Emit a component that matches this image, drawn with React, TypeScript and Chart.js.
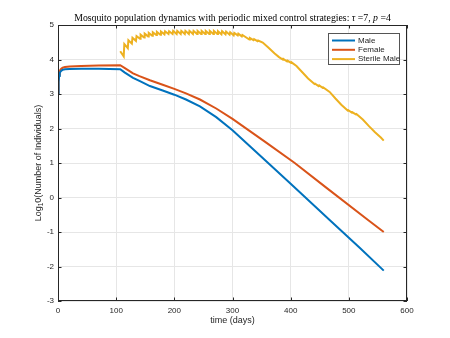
import React, { useEffect, useRef } from "react";
import { Chart, registerables } from "chart.js";

Chart.register(...registerables);

// ---- data ----
const maleDays = [0, 1, 2, 3, 4, 6, 8, 12, 20, 40, 70, 107, 115, 129, 140, 158, 180, 200, 220, 244, 272, 300, 329, 365, 400, 467, 520, 560];
const maleLog = [3.0, 3.35, 3.52, 3.6, 3.64, 3.68, 3.7, 3.715, 3.725, 3.73, 3.73, 3.72, 3.62, 3.47, 3.38, 3.23, 3.1, 2.98, 2.84, 2.64, 2.33, 1.95, 1.5, 0.94, 0.4, -0.65, -1.48, -2.12];

const femaleDays = [0, 1, 2, 3, 4, 6, 8, 12, 20, 40, 70, 107, 115, 129, 140, 158, 180, 200, 220, 244, 272, 300, 358, 407, 460, 533, 560];
const femaleLog = [3.0, 3.38, 3.56, 3.65, 3.7, 3.74, 3.76, 3.78, 3.8, 3.815, 3.825, 3.835, 3.75, 3.6, 3.52, 3.4, 3.27, 3.15, 3.02, 2.84, 2.58, 2.28, 1.59, 1.0, 0.3, -0.65, -1.0];

// sterile male: weekly releases (value just after release, value just before next release)
const releaseDays = [107, 114, 121, 128, 135, 142, 149, 156, 163, 170, 177, 184, 191, 198, 205, 212, 219, 226, 233, 240, 247, 254, 261, 268, 275, 282, 289, 296];
const releasePeaks = [4.24, 4.45, 4.56, 4.63, 4.68, 4.72, 4.75, 4.77, 4.79, 4.8, 4.81, 4.82, 4.82, 4.83, 4.83, 4.83, 4.83, 4.83, 4.83, 4.83, 4.83, 4.83, 4.83, 4.83, 4.82, 4.82, 4.81, 4.79];
const releaseTroughs = [4.09, 4.33, 4.46, 4.54, 4.6, 4.64, 4.67, 4.69, 4.71, 4.72, 4.73, 4.74, 4.74, 4.74, 4.74, 4.74, 4.74, 4.74, 4.74, 4.74, 4.74, 4.74, 4.74, 4.74, 4.73, 4.73, 4.72, 4.7];
// sterile male: later phase
const sterileLateDays = [303, 309, 310, 316, 317, 329, 330, 336, 337, 343, 344, 352, 362, 372, 380, 387, 388, 394, 395, 401, 402, 410, 420, 430, 441, 442, 448, 449, 455, 456, 467, 477, 487, 498, 499, 505, 506, 512, 513, 524, 535, 545, 555, 560];
const sterileLateLog = [4.77, 4.7, 4.75, 4.67, 4.71, 4.58, 4.62, 4.56, 4.59, 4.53, 4.55, 4.49, 4.34, 4.18, 4.07, 3.99, 4.01, 3.94, 3.96, 3.9, 3.91, 3.81, 3.63, 3.45, 3.29, 3.3, 3.23, 3.25, 3.18, 3.19, 3.06, 2.87, 2.69, 2.52, 2.53, 2.46, 2.47, 2.41, 2.42, 2.26, 2.06, 1.89, 1.74, 1.65];

const seriesNames = ["Male", "Female", "Sterile Male"];
const seriesColors = ["#0072BD", "#D95319", "#EDB120"];
const xTicksMax = 600;
const yMin = -3;
const yMax = 5;

const titleParts: [string, boolean][] = [
  ["Mosquito population dynamics with periodic mixed control strategies: ", false],
  ["\u03C4", true],
  [" =7, ", false],
  ["p", true],
  [" =4", false],
];
const xLabel = "time (days)";
const yLabelParts = ["Log", "1", "0(Number of Individuals)"];

function zip(xs: number[], ys: number[]) {
  return xs.map((x, i) => ({ x, y: ys[i] }));
}

function sterilePoints() {
  const pts: { x: number; y: number }[] = [];
  releaseDays.forEach((d, i) => {
    pts.push({ x: d, y: releasePeaks[i] });
    pts.push({ x: d + 6, y: releaseTroughs[i] });
  });
  return pts.concat(zip(sterileLateDays, sterileLateLog));
}

const SANS = "'Liberation Sans', Arial, sans-serif";
const SERIF = "'Liberation Serif', 'Times New Roman', serif";
const INK = "#262626";

const decorPlugin = {
  id: "decor",
  afterDraw(chart: any) {
    const ctx: CanvasRenderingContext2D = chart.ctx;
    const { left, right, top, bottom } = chart.chartArea;
    const xs = chart.scales.x;
    const ys = chart.scales.y;
    ctx.save();
    // box
    ctx.strokeStyle = INK;
    ctx.lineWidth = 1;
    ctx.strokeRect(Math.round(left) + 0.5, Math.round(top) + 0.5, Math.round(right - left) - 1, Math.round(bottom - top) - 1);
    // inward ticks
    const tl = 3.5;
    ctx.beginPath();
    xs.ticks.forEach((t: any) => {
      const px = Math.round(xs.getPixelForValue(t.value)) + 0.5;
      ctx.moveTo(px, bottom);
      ctx.lineTo(px, bottom - tl);
      ctx.moveTo(px, top);
      ctx.lineTo(px, top + tl);
    });
    ys.ticks.forEach((t: any) => {
      const py = Math.round(ys.getPixelForValue(t.value)) + 0.5;
      ctx.moveTo(left, py);
      ctx.lineTo(left + tl, py);
      ctx.moveTo(right, py);
      ctx.lineTo(right - tl, py);
    });
    ctx.stroke();

    // title (fit to width)
    const targetW = 317;
    let size = 10;
    const measureTitle = (s: number) => {
      let w = 0;
      titleParts.forEach(([txt, it]) => {
        ctx.font = `${it ? "italic " : ""}${s}px ${SERIF}`;
        w += ctx.measureText(txt).width;
      });
      return w;
    };
    size = (size * targetW) / measureTitle(size);
    const tw = measureTitle(size);
    let tx = (left + right) / 2 - tw / 2;
    ctx.fillStyle = "#000";
    ctx.textBaseline = "alphabetic";
    ctx.textAlign = "left";
    titleParts.forEach(([txt, it]) => {
      ctx.font = `${it ? "italic " : ""}${size}px ${SERIF}`;
      ctx.fillText(txt, tx, 21);
      tx += ctx.measureText(txt).width;
    });

    // x label
    ctx.fillStyle = INK;
    ctx.font = `9px ${SANS}`;
    ctx.textAlign = "center";
    ctx.textBaseline = "middle";
    ctx.fillText(xLabel, (left + right) / 2, 321);

    // y label
    ctx.save();
    ctx.translate(38, (top + bottom) / 2);
    ctx.rotate(-Math.PI / 2);
    ctx.textAlign = "left";
    ctx.textBaseline = "alphabetic";
    const big = `9px ${SANS}`;
    const small = `6.5px ${SANS}`;
    ctx.font = big;
    const w1 = ctx.measureText(yLabelParts[0]).width;
    const w3 = ctx.measureText(yLabelParts[2]).width;
    ctx.font = small;
    const w2 = ctx.measureText(yLabelParts[1]).width;
    let lx = -(w1 + w2 + w3) / 2;
    ctx.font = big;
    ctx.fillText(yLabelParts[0], lx, 3);
    lx += w1;
    ctx.font = small;
    ctx.fillText(yLabelParts[1], lx, 5);
    lx += w2;
    ctx.font = big;
    ctx.fillText(yLabelParts[2], lx, 3);
    ctx.restore();

    // legend
    const lgL = 328, lgT = 33, lgW = 71, lgH = 31;
    ctx.fillStyle = "#fff";
    ctx.fillRect(lgL, lgT, lgW, lgH);
    ctx.strokeStyle = "#555";
    ctx.lineWidth = 1;
    ctx.strokeRect(lgL + 0.5, lgT + 0.5, lgW, lgH);
    ctx.font = `8px ${SANS}`;
    ctx.textAlign = "left";
    ctx.textBaseline = "middle";
    chart.data.datasets.forEach((ds: any, i: number) => {
      const ry = 40.5 + i * 9.3;
      ctx.strokeStyle = ds.borderColor;
      ctx.lineWidth = 2;
      ctx.beginPath();
      ctx.moveTo(332, ry);
      ctx.lineTo(355, ry);
      ctx.stroke();
      ctx.fillStyle = INK;
      ctx.fillText(ds.label, 358, ry);
    });
    ctx.restore();
  },
};

export default function App() {
  const ref = useRef<HTMLCanvasElement | null>(null);
  useEffect(() => {
    document.body.style.margin = "0";
    const canvas = ref.current;
    if (!canvas) return;
    const datasets = [zip(maleDays, maleLog), zip(femaleDays, femaleLog), sterilePoints()].map((data, i) => ({
      label: seriesNames[i],
      data,
      borderColor: seriesColors[i],
      backgroundColor: seriesColors[i],
      borderWidth: 2,
      pointRadius: 0,
      fill: false,
      tension: 0,
    }));
    const chart = new Chart(canvas, {
      type: "line",
      data: { datasets },
      options: {
        animation: false,
        responsive: false,
        devicePixelRatio: 1,
        layout: { padding: { left: 0, right: 43, top: 25, bottom: 0 } },
        plugins: { legend: { display: false }, title: { display: false }, tooltip: { enabled: false } },
        scales: {
          x: {
            type: "linear",
            min: 0,
            max: xTicksMax,
            ticks: { stepSize: 100, color: INK, font: { size: 8, family: SANS }, padding: 5, maxRotation: 0 },
            grid: { color: "#e6e6e6", drawTicks: false },
            border: { display: false },
            afterFit: (s: any) => {
              s.height = 37;
            },
          },
          y: {
            type: "linear",
            min: yMin,
            max: yMax,
            ticks: { stepSize: 1, color: INK, font: { size: 8, family: SANS }, padding: 4 },
            grid: { color: "#e6e6e6", drawTicks: false },
            border: { display: false },
            afterFit: (s: any) => {
              s.width = 58;
            },
          },
        },
      },
      plugins: [decorPlugin],
    });
    return () => chart.destroy();
  }, []);
  return (
    <div style={{ width: 450, height: 338 }}>
      <canvas ref={ref} width={450} height={338} style={{ display: "block" }} />
    </div>
  );
}
